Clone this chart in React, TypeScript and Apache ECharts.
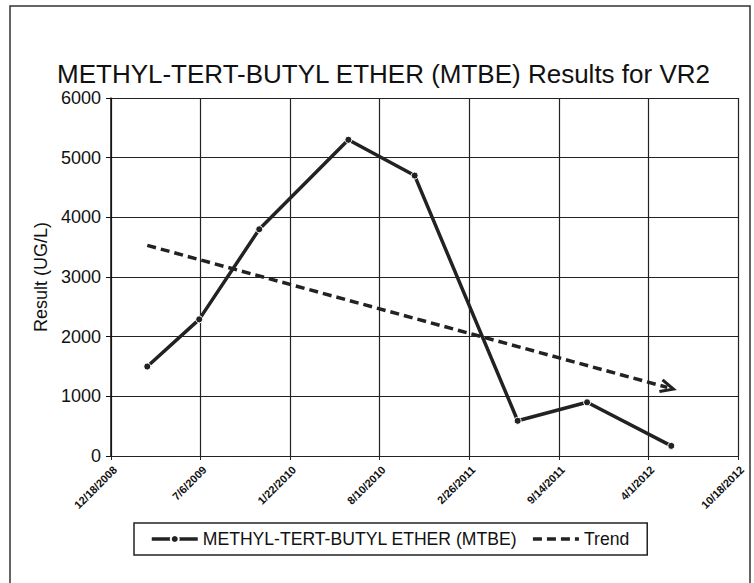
import React, { useEffect, useRef } from "react";
import * as echarts from "echarts";

const START_DATE = "2008-12-18";
const X_MAX_DAYS = 1400;
const X_STEP_DAYS = 200;
const Y_MAX = 6000;
const Y_STEP = 1000;

const sampleDates = [
  "2009-03-09",
  "2009-07-03",
  "2009-11-14",
  "2010-06-01",
  "2010-10-27",
  "2011-06-14",
  "2011-11-16",
  "2012-05-22",
];
const sampleValues = [1500, 2290, 3800, 5300, 4700, 590, 900, 170];

const trendDates = ["2009-03-09", "2012-05-13"];
const trendValues = [3530, 1150];

const SERIES_NAME = "METHYL-TERT-BUTYL ETHER (MTBE)";
const TREND_NAME = "Trend";
const TITLE = "METHYL-TERT-BUTYL ETHER (MTBE) Results for VR2";
const Y_NAME = "Result (UG/L)";

const DAY = 86400000;
function toUTC(s: string): number {
  const [y, m, d] = s.split("-").map(Number);
  return Date.UTC(y, m - 1, d);
}
const START_MS = toUTC(START_DATE);
function dayOffset(s: string): number {
  return Math.round((toUTC(s) - START_MS) / DAY);
}
function fmtDay(v: number): string {
  const dt = new Date(START_MS + v * DAY);
  return `${dt.getUTCMonth() + 1}/${dt.getUTCDate()}/${dt.getUTCFullYear()}`;
}

const FONT = "'Liberation Sans', Arial, sans-serif";

export default function App() {
  const ref = useRef<HTMLDivElement>(null);
  useEffect(() => {
    if (!ref.current) return;
    const chart = echarts.init(ref.current, undefined, { renderer: "svg" });
    const mainData = sampleDates.map((d, i) => [dayOffset(d), sampleValues[i]]);
    const trendData = trendDates.map((d, i) => {
      const item: any = { value: [dayOffset(d), trendValues[i]] };
      if (i === trendDates.length - 1) {
        item.symbol = "path://M0,0L10,5L0,10";
        item.symbolSize = [13, 12];
        item.symbolRotate = -15;
        item.itemStyle = { color: "none", borderColor: "#222", borderWidth: 3 };
      }
      return item;
    });
    chart.setOption({
      animation: false,
      backgroundColor: "#fff",
      textStyle: { fontFamily: FONT },
      title: {
        text: TITLE,
        left: 52,
        top: 56,
        textStyle: { fontSize: 26, fontWeight: "normal", color: "#111", fontFamily: FONT },
      },
      graphic: [
        {
          type: "rect",
          shape: { x: 10, y: 6, width: 740, height: 600 },
          style: { fill: "none", stroke: "#333", lineWidth: 1.5 },
          silent: true,
        },
      ],
      legend: {
        top: 523,
        left: 134,
        data: [
          { name: SERIES_NAME, lineStyle: { width: 3.5 } },
          { name: TREND_NAME, itemStyle: { opacity: 0 }, lineStyle: { width: 3.5 } },
        ],
        borderColor: "#222",
        borderWidth: 1.5,
        borderRadius: 0,
        padding: [7, 18, 7, 16],
        itemWidth: 46,
        itemHeight: 10,
        itemGap: 14,
        textStyle: { fontSize: 17.6, color: "#111", fontFamily: FONT },
      },
      grid: { left: 111, right: 16, top: 98, bottom: 127 },
      xAxis: {
        type: "value",
        min: 0,
        max: X_MAX_DAYS,
        interval: X_STEP_DAYS,
        axisLine: { lineStyle: { color: "#222", width: 1.2, type: "dotted" } },
        axisTick: { show: true, length: 4, lineStyle: { color: "#222" } },
        splitLine: { show: true, lineStyle: { color: "#222", width: 1.2 } },
        axisLabel: {
          rotate: 45,
          fontSize: 11,
          fontWeight: "bold",
          color: "#111",
          margin: 8,
          verticalAlign: "top",
          showMinLabel: true,
          showMaxLabel: true,
          formatter: (v: number) => fmtDay(v),
        },
      },
      yAxis: {
        type: "value",
        min: 0,
        max: Y_MAX,
        interval: Y_STEP,
        name: Y_NAME,
        nameLocation: "middle",
        nameGap: 58,
        nameTextStyle: { fontSize: 18, color: "#111", fontFamily: FONT },
        axisLine: { show: true, lineStyle: { color: "#111", width: 1.5 } },
        axisTick: { show: true, length: 5, lineStyle: { color: "#111" } },
        splitLine: { show: true, lineStyle: { color: "#222", width: 1.2 } },
        axisLabel: { fontSize: 18, color: "#111", margin: 10, formatter: (v: number) => String(v) },
      },
      series: [
        {
          name: SERIES_NAME,
          type: "line",
          data: mainData,
          symbol: "circle",
          symbolSize: 7,
          lineStyle: { color: "#222", width: 3.5 },
          itemStyle: { color: "#222", borderColor: "#fff", borderWidth: 1 },
          z: 3,
        },
        {
          name: TREND_NAME,
          type: "line",
          data: trendData,
          symbol: "none",
          showSymbol: true,
          lineStyle: { color: "#222", width: 3.5, type: [9, 5] },
          itemStyle: { color: "#222" },
          z: 2,
        },
      ],
    });
    return () => chart.dispose();
  }, []);
  return (
    <div
      ref={ref}
      style={{ position: "fixed", left: 0, top: 0, width: 754, height: 583, background: "#fff" }}
    />
  );
}
